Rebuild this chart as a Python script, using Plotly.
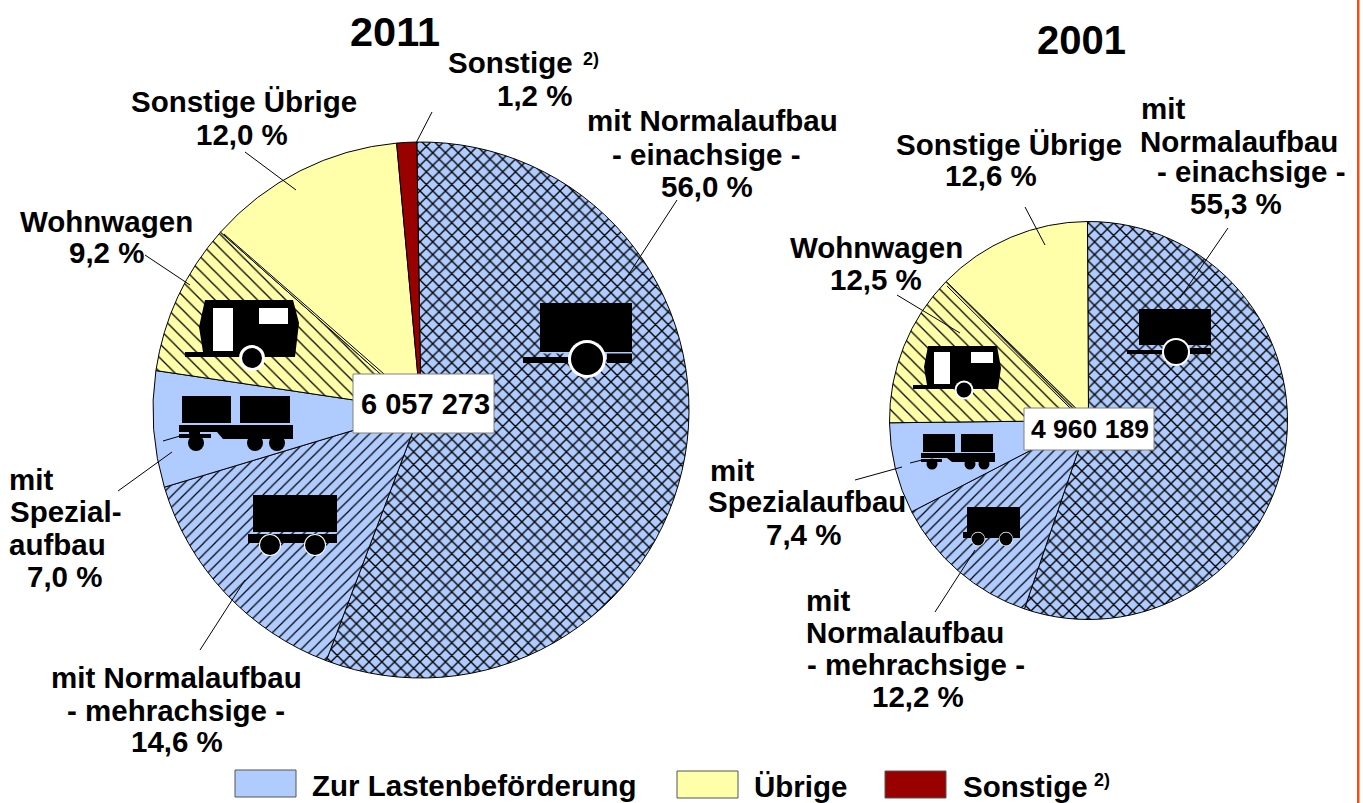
import plotly.graph_objects as go

W, H = 1363, 803

# ---- data ----
categories_2011 = ["mit Normalaufbau - einachsige", "mit Normalaufbau - mehrachsige", "mit Spezialaufbau",
                   "Wohnwagen", "Sonstige Übrige", "Sonstige"]
values_2011 = [56.0, 14.6, 7.0, 9.2, 12.0, 1.2]
categories_2001 = ["mit Normalaufbau - einachsige", "mit Normalaufbau - mehrachsige", "mit Spezialaufbau",
                   "Wohnwagen", "Sonstige Übrige"]
values_2001 = [55.3, 12.2, 7.4, 12.5, 12.6]
total_2011 = "6 057 273"
total_2001 = "4 960 189"
legend_names = ["Zur Lastenbeförderung", "Übrige", "Sonstige"]

# ---- style ----
BLUE, YELLOW, RED = "#B0CCFF", "#FFFFAA", "#990000"
slice_bg = [BLUE, BLUE, BLUE, YELLOW, YELLOW, RED]
slice_shape = ["x", "/", "", "\\", "", ""]
slice_size = [9, 8, 8, 10, 8, 8]
slice_solid = [0.28, 0.15, 0.1, 0.13, 0.1, 0.1]


def fx(x):
    return x / W


def fy(y):
    return 1 - y / H


def pie(values, labels, cx, cy, r, rotation):
    n = len(values)
    return go.Pie(
        values=values, labels=labels, sort=False, direction="clockwise", rotation=rotation,
        textinfo="none", hoverinfo="label+percent", showlegend=False,
        domain=dict(x=[fx(cx - r), fx(cx + r)], y=[fy(cy + r), fy(cy - r)]),
        marker=dict(
            colors=slice_bg[:n],
            line=dict(color="#000000", width=1),
            pattern=dict(shape=slice_shape[:n], size=slice_size[:n], solidity=slice_solid[:n],
                         fgcolor="#000000", bgcolor=slice_bg[:n], fillmode="replace"),
        ),
    )


fig = go.Figure([
    pie(values_2011, categories_2011, 421, 410, 268, -0.9),
    pie(values_2001, categories_2001, 1088.5, 420.5, 199, -0.3),
])

shapes, annotations = [], []


def rect(x0, y0, x1, y1, fill="#000000", line=None, lw=1):
    shapes.append(dict(type="rect", xref="paper", yref="paper", x0=fx(x0), x1=fx(x1), y0=fy(y1), y1=fy(y0),
                       fillcolor=fill, line=dict(color=line or fill, width=lw if line else 0)))


def circle(cx, cy, r, fill="#000000", line=None, lw=1):
    shapes.append(dict(type="circle", xref="paper", yref="paper", x0=fx(cx - r), x1=fx(cx + r),
                       y0=fy(cy + r), y1=fy(cy - r), fillcolor=fill,
                       line=dict(color=line or fill, width=lw if line else 0)))


def poly(points, fill="#000000"):
    d = "M" + " L".join(f"{fx(x):.5f},{fy(y):.5f}" for x, y in points) + " Z"
    shapes.append(dict(type="path", xref="paper", yref="paper", path=d, fillcolor=fill, line=dict(width=0)))


def seg(x0, y0, x1, y1):
    shapes.append(dict(type="line", xref="paper", yref="paper", x0=fx(x0), x1=fx(x1), y0=fy(y0), y1=fy(y1),
                       line=dict(color="#000000", width=1)))


def wheel(cx, cy, r, ring):
    circle(cx, cy, r + ring, "#FFFFFF")
    circle(cx, cy, r, "#000000")


def text(s, x, y, size=29.5, color="#000000"):
    annotations.append(dict(text=f"<b>{s}</b>", xref="paper", yref="paper", x=fx(x), y=fy(y), xanchor="center",
                            yanchor="middle", showarrow=False,
                            font=dict(family="Liberation Sans", size=size, color=color)))


# leader lines
for s in [(432, 112, 416, 143), (677, 200, 625, 280), (245, 152, 296, 190), (145, 255, 190, 285),
          (118, 491, 172, 452), (163, 441, 180, 436), (200, 650, 245, 580),
          (1228, 228, 1180, 298), (1025, 207, 1045, 245), (897, 295, 960, 333),
          (855, 480, 902, 467), (910, 463, 922, 460), (935, 612, 975, 550),
          (224, 234, 384, 374), (947, 286, 1070, 408)]:
    seg(*s)

# trailer icons
rect(540, 303, 632, 352)
rect(523, 357, 568, 363)
rect(607, 353, 632, 363)
rect(540, 352, 632, 353.5, BLUE)
wheel(587, 359, 16, 3)

rect(1139, 309, 1211, 345)
rect(1127, 350, 1163, 354)
rect(1190, 348, 1211, 354)
wheel(1176, 352, 12, 2)

# caravan icons
for body, door, win, wh in [
    ([(205, 300), (293, 300), (299, 323), (295, 357), (185, 357), (185, 352), (203, 352), (199, 327)],
     (213, 308, 233, 351), (259, 308, 288, 324), (252, 358, 10, 3)),
    ([(928, 346), (997, 346), (1001, 368), (998, 389), (913, 389), (913, 385), (927, 385), (924, 367)],
     (934, 352, 950, 384), (971, 352, 993, 363), (964, 390, 7.5, 2)),
]:
    poly(body)
    rect(*door, "#FFFFFF")
    rect(*win, "#FFFFFF")
    wheel(*wh)

# special-body icons
rect(182, 396, 231, 423)
rect(240, 396, 290, 423)
rect(179, 425, 293, 432)
poly([(217, 432), (293, 432), (293, 439), (223, 439)])
rect(179, 434, 211, 438)
rect(189, 432, 200, 434)
circle(196, 443, 8)
circle(255, 443, 8)
circle(277, 443, 8)

rect(923, 434, 955, 452)
rect(961, 434, 993, 452)
rect(921, 453, 995, 458)
poly([(947, 458), (995, 458), (995, 462), (952, 462)])
rect(921, 459, 942, 462)
circle(932, 464, 5.5)
circle(970, 464, 5.5)
circle(984, 464, 5.5)

# multi-axle icons
rect(253, 495, 337, 532)
rect(248, 534, 337, 543)
wheel(270, 545, 10, 1)
wheel(315, 545, 10, 1)

rect(967, 507, 1020, 532)
rect(963, 532, 1020, 538)
wheel(978, 539, 6.5, 0.7)
wheel(1006, 539, 6.5, 0.7)

# total boxes
rect(353, 374, 494, 433, "#FFFFFF", "#808080", 1)
rect(1024, 408, 1154, 450, "#FFFFFF", "#808080", 1)
text(total_2011, 425, 404, 29)
text(total_2001, 1090, 429, 26.5)

# legend
rect(235, 770, 296, 797, BLUE, "#555555", 1)
rect(677, 771, 738, 798, YELLOW, "#555555", 1)
rect(885, 771, 946, 798, RED, "#555555", 1)
text(legend_names[0], 474.5, 785)
text(legend_names[1], 800, 786)
text(legend_names[2], 1025, 786)
text("2)", 1102, 780, 18)

# right rule
rect(1357, 0, 1359.5, H, "#FF4A12")

# titles and labels
text("2011", 395, 31, 41.5)
text("2001", 1081, 40, 40)
for s, x, y, *rest in [
    ("Sonstige", 510, 63), ("2)", 591, 59, 18), ("1,2 %", 534, 95),
    ("mit Normalaufbau", 712, 121), ("- einachsige -", 707, 154), ("56,0 %", 707, 186),
    ("Sonstige Übrige", 244, 101), ("12,0 %", 242, 134),
    ("Wohnwagen", 106, 221), ("9,2 %", 106, 253),
    ("mit", 31, 479), ("Spezial-", 65, 511), ("aufbau", 57, 544), ("7,0 %", 64, 576),
    ("mit Normalaufbau", 176, 677), ("- mehrachsige -", 176, 710), ("14,6 %", 177, 741),
    ("mit", 1163, 109), ("Normalaufbau", 1239, 141), ("- einachsige -", 1251, 172), ("55,3 %", 1236, 203),
    ("Sonstige Übrige", 1009, 144), ("12,6 %", 991, 175),
    ("Wohnwagen", 876, 247), ("12,5 %", 876, 279),
    ("mit", 732, 470), ("Spezialaufbau", 807, 502), ("7,4 %", 803, 534),
    ("mit", 828, 600), ("Normalaufbau", 905, 632), ("- mehrachsige -", 916, 664), ("12,2 %", 918, 696),
]:
    text(s, x, y, *rest)

fig.update_layout(width=W, height=H, margin=dict(l=0, r=0, t=0, b=0), autosize=False,
                  paper_bgcolor="#FFFFFF", plot_bgcolor="#FFFFFF", shapes=shapes, annotations=annotations)
fig.write_html("out.html", config=dict(displayModeBar=False),
               post_script="document.body.style.margin='0';document.body.style.overflow='hidden';")
